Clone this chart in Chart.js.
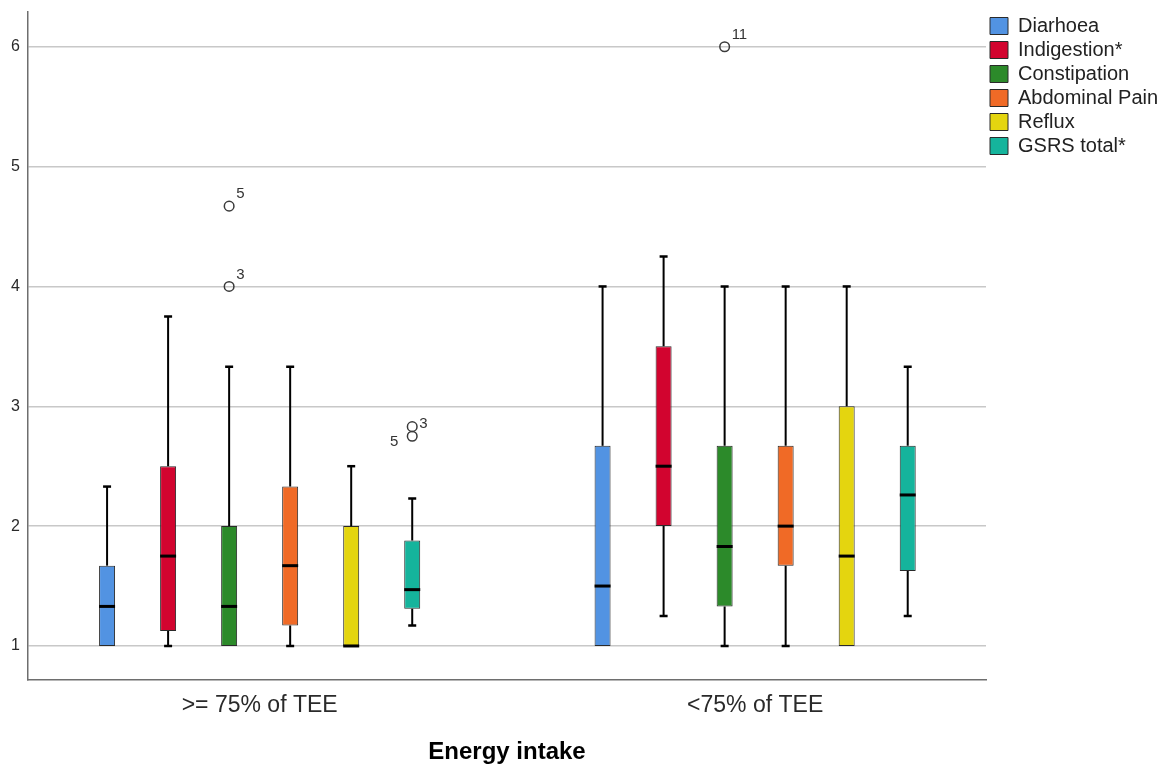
<!DOCTYPE html>
<html>
<head>
  <title>GSRS scores by energy intake</title>
  <script src="https://cdn.jsdelivr.net/npm/chart.js"></script>
  <style>
    html, body { margin: 0; padding: 0; background: #fff; }
    canvas { display: block; }
  </style>
</head>
<body>
  <canvas id="boxChart" width="1165" height="767"></canvas>

  <script>
    const groups = [">= 75% of TEE", "<75% of TEE"];
    const symptoms = ["Diarhoea", "Indigestion*", "Constipation", "Abdominal Pain", "Reflux", "GSRS total*"];
    const colors = ["#5293e2", "#d2042f", "#2c8a2a", "#f06a26", "#e4d50f", "#15b49c"];
    const yTicks = [1, 2, 3, 4, 5, 6];

    // one row per symptom: [>= 75% of TEE, <75% of TEE]
    const whiskerLow  = [[1, 1], [1, 1.25], [1, 1], [1, 1], [1, 1], [1.17, 1.25]];
    const q1          = [[1, 1], [1.125, 2], [1, 1.33], [1.17, 1.67], [1, 1], [1.31, 1.625]];
    const median      = [[1.33, 1.5], [1.75, 2.5], [1.33, 1.83], [1.67, 2], [1, 1.75], [1.47, 2.26]];
    const q3          = [[1.67, 2.67], [2.5, 3.5], [2, 2.67], [2.33, 2.67], [2, 3], [1.88, 2.67]];
    const whiskerHigh = [[2.33, 4], [3.75, 4.25], [3.33, 4], [3.33, 4], [2.5, 4], [2.23, 3.33]];

    // outliers (symptom index, group index, value, case number)
    const outlierSymptom = [2, 2, 5, 5, 2];
    const outlierGroup   = [0, 0, 0, 0, 1];
    const outlierValue   = [4.67, 4, 2.83, 2.75, 6];
    const outlierCase    = ["5", "3", "3", "5", "11"];
    const outlierLabelSide = ["ur", "ur", "r", "l", "ur"];

    const FONT = "'Liberation Sans', Arial, sans-serif";

    const whiskerPlugin = {
      id: "whiskers",
      afterDatasetsDraw(chart) {
        const ctx = chart.ctx;
        const y = chart.scales.y;
        ctx.save();
        ctx.strokeStyle = "#000";
        symptoms.forEach((name, s) => {
          chart.getDatasetMeta(s).data.forEach((bar, g) => {
            const x = bar.x;
            const half = bar.width / 2;
            const pHigh = y.getPixelForValue(whiskerHigh[s][g]);
            const pQ3 = y.getPixelForValue(q3[s][g]);
            const pQ1 = y.getPixelForValue(q1[s][g]);
            const pLow = y.getPixelForValue(whiskerLow[s][g]);
            const pMed = y.getPixelForValue(median[s][g]);

            ctx.lineWidth = 2;
            ctx.beginPath();
            if (whiskerHigh[s][g] > q3[s][g]) {
              ctx.moveTo(x, pQ3); ctx.lineTo(x, pHigh);
            }
            if (whiskerLow[s][g] < q1[s][g]) {
              ctx.moveTo(x, pQ1); ctx.lineTo(x, pLow);
            }
            ctx.stroke();

            // caps
            ctx.lineWidth = 2.5;
            ctx.beginPath();
            if (whiskerHigh[s][g] > q3[s][g]) {
              ctx.moveTo(x - 4, pHigh); ctx.lineTo(x + 4, pHigh);
            }
            if (whiskerLow[s][g] < q1[s][g]) {
              ctx.moveTo(x - 4, pLow); ctx.lineTo(x + 4, pLow);
            }
            ctx.stroke();

            // median
            ctx.lineWidth = 3;
            ctx.beginPath();
            ctx.moveTo(x - half, pMed);
            ctx.lineTo(x + half, pMed);
            ctx.stroke();
          });
        });

        // outliers
        ctx.font = "15px " + FONT;
        ctx.textBaseline = "middle";
        outlierValue.forEach((v, k) => {
          const bar = chart.getDatasetMeta(outlierSymptom[k]).data[outlierGroup[k]];
          const cx = bar.x;
          const cy = y.getPixelForValue(v);
          ctx.strokeStyle = "#3a3a3a";
          ctx.lineWidth = 1.5;
          ctx.beginPath();
          ctx.arc(cx, cy, 4.8, 0, Math.PI * 2);
          ctx.stroke();

          ctx.fillStyle = "#333";
          const side = outlierLabelSide[k];
          if (side === "ur") {
            ctx.textAlign = "left";
            ctx.fillText(outlierCase[k], cx + 7, cy - 12);
          } else if (side === "r") {
            ctx.textAlign = "left";
            ctx.fillText(outlierCase[k], cx + 7, cy - 3);
          } else {
            ctx.textAlign = "right";
            ctx.fillText(outlierCase[k], cx - 14, cy + 6);
          }
        });
        ctx.restore();
      }
    };

    const datasets = symptoms.map((name, s) => ({
      label: name,
      data: groups.map((grp, g) => ({ x: g, y: [q1[s][g], q3[s][g]] })),
      backgroundColor: colors[s],
      borderColor: "#2a2a2a",
      borderWidth: 1,
      borderSkipped: false,
      categoryPercentage: 0.739,
      barPercentage: 0.262
    }));

    new Chart(document.getElementById("boxChart").getContext("2d"), {
      type: "bar",
      data: { datasets },
      plugins: [whiskerPlugin],
      options: {
        responsive: false,
        animation: false,
        layout: { padding: { top: 12, right: 0, left: 0, bottom: 0 } },
        plugins: {
          tooltip: { enabled: false },
          legend: {
            position: "right",
            align: "start",
            maxWidth: 179,
            labels: {
              boxWidth: 18,
              boxHeight: 17,
              padding: 4,
              color: "#222",
              font: { family: FONT, size: 20 }
            }
          }
        },
        scales: {
          x: {
            type: "linear",
            offset: false,
            min: -0.4675,
            max: 1.4659,
            afterBuildTicks: axis => { axis.ticks = groups.map((grp, i) => ({ value: i })); },
            afterFit: axis => { axis.height = 87; axis.paddingLeft = 0; axis.paddingRight = 0; },
            grid: { display: false, drawTicks: false },
            border: { display: true, color: "#6e6e6e", width: 1.5 },
            ticks: {
              autoSkip: false,
              maxRotation: 0,
              padding: 12,
              color: "#2a2a2a",
              font: { family: FONT, size: 23 },
              callback: v => groups[Math.round(v)]
            },
            title: {
              display: true,
              text: "Energy intake",
              color: "#000",
              font: { family: FONT, size: 24, weight: "bold" },
              padding: { top: 0, bottom: 0 }
            }
          },
          y: {
            min: 0.716,
            max: 6.29,
            afterBuildTicks: axis => { axis.ticks = yTicks.map(v => ({ value: v })); },
            afterFit: axis => { axis.width = 28; axis.paddingTop = 0; axis.paddingBottom = 0; },
            grid: { color: "#c8c8c8", lineWidth: 1.5, drawTicks: false },
            border: { display: true, color: "#6e6e6e", width: 1.5 },
            ticks: {
              padding: 8,
              color: "#2a2a2a",
              font: { family: FONT, size: 16 },
              callback: v => v
            }
          }
        }
      }
    });
  </script>
</body>
</html>
